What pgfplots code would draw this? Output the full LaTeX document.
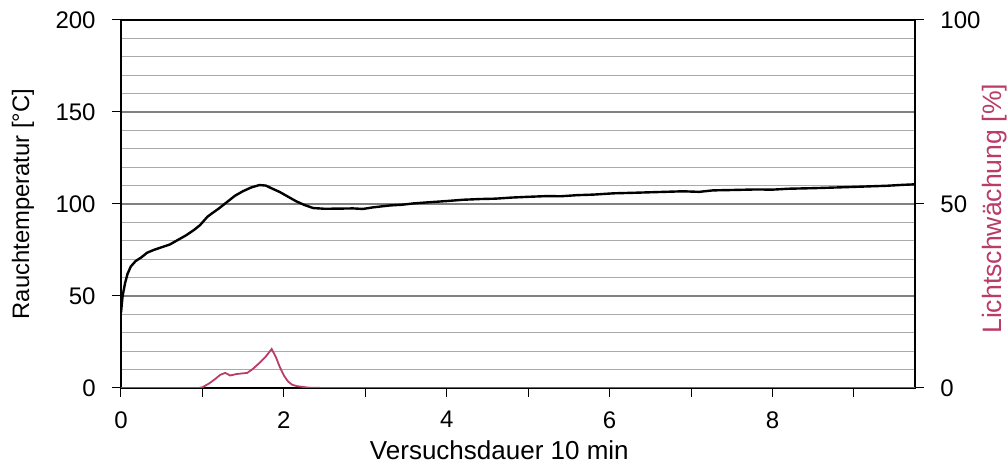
\documentclass[border=0pt]{standalone}
\usepackage{pgfplots}
\pgfplotsset{compat=1.18}
\usepackage{fontspec}
\setmainfont{Liberation Sans}
\definecolor{magl}{RGB}{185,60,105}
\definecolor{gridg}{RGB}{170,170,170}
\begin{document}
\fontsize{12}{14.4}\selectfont
\begin{tikzpicture}
\pgfplotsset{
  every axis/.append style={
    scale only axis, width=397pt, height=184pt,
    xmin=0, xmax=9.75,
    /pgf/number format/assume math mode=true,
    tick label style={font=\fontsize{12}{14.4}\selectfont},
    major tick length=4.5pt,
    tick style={black, line width=0.5pt},
  }
}
\begin{axis}[
  ymin=0, ymax=200,
  axis line style={black, line width=0.7pt},
  xtick={0,1,...,9},
  xticklabels={0,,2,,4,,6,,8,},
  xtick pos=bottom, xtick align=outside,
  ytick={0,50,...,200},
  minor ytick={10,20,...,190},
  ytick pos=left, ytick align=outside,
  minor tick length=0pt,
  ymajorgrids, yminorgrids,
  major grid style={gray, line width=0.6pt},
  minor grid style={gridg, line width=0.4pt},
  ylabel={Rauchtemperatur [°C]},
  xlabel={Versuchsdauer 10 min},
  ylabel style={font=\fontsize{11.9}{14}\selectfont, at={(axis description cs:-0.1235,0.5)}, anchor=center},
  xlabel style={font=\fontsize{13}{15.6}\selectfont, at={(axis description cs:0.4765,0)}, anchor=center, yshift=-31pt},
  yticklabel style={xshift=-4pt},
  xticklabel style={yshift=-3pt},
]
\addplot[black, line width=1.2pt] coordinates {
(0,41) (0.02,50) (0.05,57) (0.08,62) (0.12,66) (0.18,69) (0.25,71) (0.32,73.5)
(0.4,75) (0.5,76.5) (0.6,78) (0.7,80.5) (0.8,83) (0.9,86) (0.97,88.5) (1.02,91)
(1.06,93) (1.12,95) (1.2,97.5) (1.3,101) (1.4,104.5) (1.5,107) (1.6,109) (1.7,110.3)
(1.78,110) (1.85,108.5) (1.95,106.5) (2.05,104) (2.15,101.5) (2.25,99.5) (2.36,97.8)
(2.5,97.4) (2.7,97.5) (2.85,97.6) (2.97,97.3) (3.1,98.2) (3.3,99.2) (3.45,99.6)
(3.59,100.3) (3.8,101) (4.0,101.6) (4.2,102.3) (4.41,102.7) (4.6,102.9) (4.8,103.5)
(5.0,103.9) (5.23,104.3) (5.4,104.2) (5.6,104.8) (5.8,105.1) (6.05,105.8) (6.3,106.1)
(6.6,106.5) (6.9,106.9) (7.1,106.6) (7.27,107.4) (7.5,107.6) (7.8,107.9) (8.0,107.8)
(8.2,108.3) (8.5,108.6) (8.8,109.0) (9.0,109.3) (9.2,109.6) (9.4,109.9) (9.6,110.4) (9.75,110.7)
};
\end{axis}
\begin{axis}[
  ymin=0, ymax=100,
  axis x line=none,
  axis y line*=right,
  axis line style={black, line width=0.7pt},
  ytick={0,50,100},
  ytick align=outside,
  ylabel={Lichtschwächung [\%]},
  ylabel style={magl, font=\fontsize{13.3}{16}\selectfont, at={(axis description cs:1.1008,0.487)}, anchor=center, rotate=0},
  yticklabel style={xshift=4pt},
]
\addplot[magl, line width=0.9pt] coordinates {
(0,0) (0.5,0) (0.95,0) (1.0,0.2) (1.08,1.2) (1.16,2.5) (1.22,3.6) (1.28,4.1) (1.34,3.4)
(1.42,3.8) (1.55,4.1) (1.62,5.2) (1.71,7) (1.78,8.6) (1.85,10.6) (1.9,8.5) (1.95,5.7)
(2.0,3.4) (2.05,1.8) (2.1,0.9) (2.16,0.5) (2.3,0.1) (2.5,0) (4,0) (6,0) (8,0) (9.75,0)
};
\end{axis}
\pgfresetboundingbox
\useasboundingbox (-60.5pt,-41pt) rectangle (443.5pt,194pt);
\end{tikzpicture}
\end{document}
